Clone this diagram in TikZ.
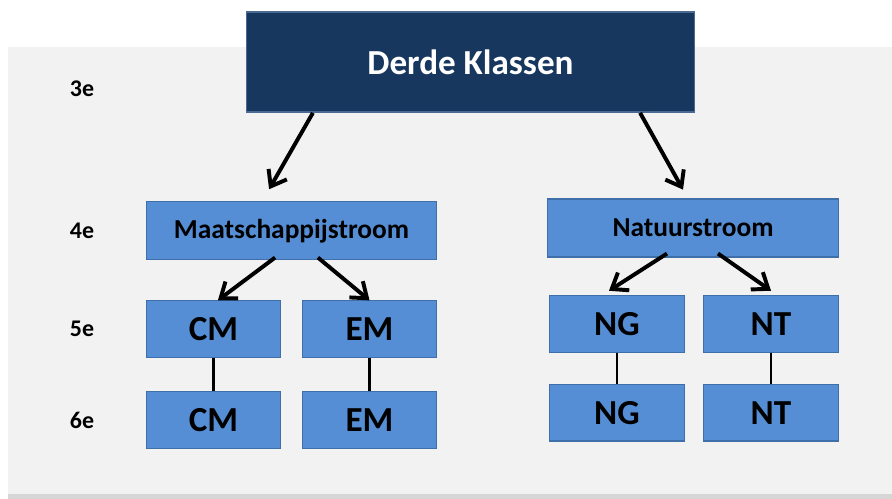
\documentclass[tikz,border=0pt]{standalone}
\usepackage{fontspec}
\setmainfont{Carlito}
\usetikzlibrary{arrows.meta,positioning}
\definecolor{panelbg}{HTML}{F2F2F2}
\definecolor{panelshade}{HTML}{D6D6D6}
\definecolor{topfill}{HTML}{17375E}
\definecolor{topdraw}{HTML}{4A6A94}
\definecolor{boxfill}{HTML}{558ED5}
\definecolor{boxdraw}{HTML}{3F6FA8}

\begin{document}
\begin{tikzpicture}[
  topbox/.style={draw=topdraw, line width=1.2pt, fill=topfill, minimum width=11.2cm, minimum height=2.5cm, text=white, font=\bfseries\fontsize{25}{29}\selectfont},
  stream/.style={draw=boxdraw, line width=0.8pt, fill=boxfill, minimum width=7.27cm, minimum height=1.45cm, font=\bfseries\fontsize{19.5}{23}\selectfont},
  klas/.style={draw=boxdraw, line width=0.8pt, fill=boxfill, minimum width=3.37cm, minimum height=1.42cm, font=\bfseries\fontsize{25}{29}\selectfont},
  lvl/.style={font=\bfseries\fontsize{17}{20}\selectfont},
  arr/.style={-{Straight Barb[length=10pt,width=15pt]}, line width=2.8pt, black},
  link/.style={line width=1.8pt, black}
]
  % panel and page size
  \useasboundingbox (0,0) rectangle (22.3,-12.475);
  \fill[panelshade] (0.2,-1.175) rectangle (22.3,-12.475);
  \fill[panelbg] (0.2,-1.175) rectangle (22.3,-12.34);

  \node[topbox] (top) at (11.7625,-1.55) {Derde Klassen};
  \node[stream] (maat) at (7.2875,-5.77) {Maatschappijstroom};
  \node[stream] (natuur) at (17.325,-5.7) {Natuurstroom};

  \node[klas, below right=1.0cm and 0cm of maat.south west] (cm5) {CM};
  \node[klas, below left=1.0cm and 0cm of maat.south east] (em5) {EM};
  \node[klas, below=0.825cm of cm5] (cm6) {CM};
  \node[klas, below=0.825cm of em5] (em6) {EM};
  \node[klas, below right=0.93cm and 0.05cm of natuur.south west] (ng5) {NG};
  \node[klas, below left=0.93cm and 0cm of natuur.south east] (nt5) {NT};
  \node[klas, below=0.775cm of ng5] (ng6) {NG};
  \node[klas, below=0.775cm of nt5] (nt6) {NT};

  % year labels
  \coordinate (lvlx) at (2.05,0);
  \node[lvl] (l3) at (2.05,-2.22) {3e};
  \node[lvl] (l4) at (lvlx |- maat) {4e};
  \node[lvl] (l5) at (lvlx |- cm5) {5e};
  \node[lvl] (l6) at (lvlx |- cm6) {6e};

  \draw[arr] ([xshift=-3.94cm]top.south) -- ([xshift=-0.56cm, yshift=0.3cm]maat.north);
  \draw[arr] ([xshift=4.24cm]top.south) -- ([xshift=-0.25cm, yshift=0.22cm]natuur.north);
  \draw[arr] ([xshift=-0.41cm, yshift=0.07cm]maat.south) -- ([xshift=0.11cm]cm5.north);
  \draw[arr] ([xshift=0.66cm, yshift=0.07cm]maat.south) -- (em5.north);
  \draw[arr] ([xshift=-0.65cm, yshift=0.1cm]natuur.south) -- ([xshift=-0.2cm, yshift=0.1cm]ng5.north);
  \draw[arr] ([xshift=0.625cm, yshift=0.1cm]natuur.south) -- ([xshift=0cm, yshift=0.1cm]nt5.north);
  \draw[link] (cm5) -- (cm6);
  \draw[link] (em5) -- (em6);
  \draw[link] (ng5) -- (ng6);
  \draw[link] (nt5) -- (nt6);
\end{tikzpicture}
\end{document}
